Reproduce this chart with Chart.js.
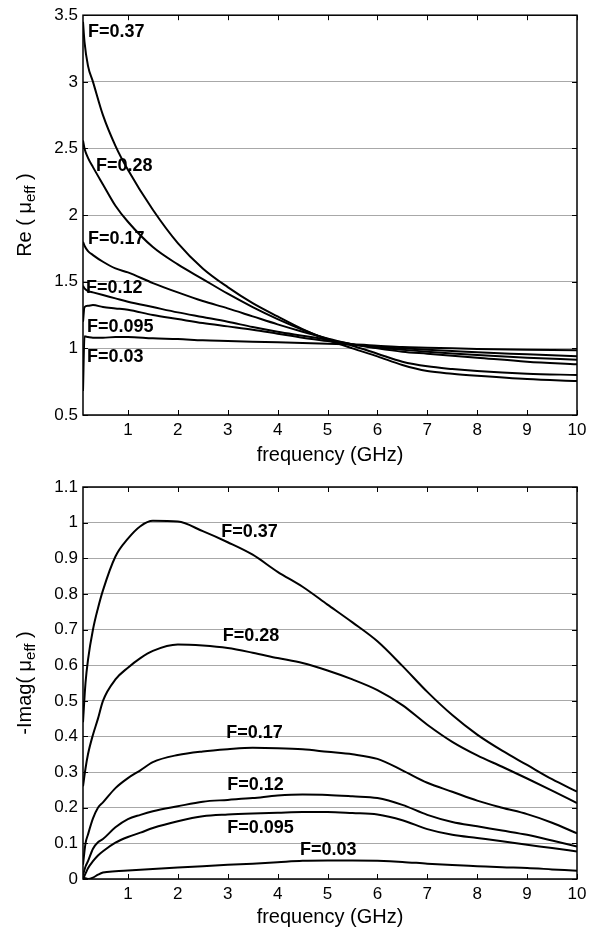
<!DOCTYPE html>
<html>
<head>
<meta charset="utf-8">
<script src="https://cdn.jsdelivr.net/npm/chart.js@4.4.1/dist/chart.umd.min.js"></script>
<style>
  body { margin: 0; background: #fff; }
  .box { position: absolute; left: 0; width: 594px; }
</style>
</head>
<body>
<div class="box" style="top:0;height:470px"><canvas id="reChart"></canvas></div>
<div class="box" style="top:470px;height:461px"><canvas id="imChart"></canvas></div>
<script>
// Re(mu_eff) vs frequency, one curve per filling factor F
const reFreq = [0.1, 0.13, 0.2, 0.3, 0.5, 0.75, 1, 1.5, 2, 2.5, 3, 3.5, 4, 4.5, 5, 5.5, 6, 6.5, 7, 7.5, 8, 9, 10];
const reF037 = [3.45, 3.3, 3.12, 3.0, 2.75, 2.52, 2.34, 2.04, 1.79, 1.60, 1.46, 1.34, 1.24, 1.145, 1.065, 1.0, 0.94, 0.875, 0.83, 0.81, 0.795, 0.77, 0.755];
const reF028 = [2.56, 2.5, 2.43, 2.36, 2.23, 2.07, 1.95, 1.76, 1.63, 1.52, 1.41, 1.31, 1.22, 1.14, 1.07, 1.02, 0.96, 0.9, 0.865, 0.845, 0.83, 0.81, 0.80];
const reF017 = [1.80, 1.77, 1.73, 1.70, 1.65, 1.60, 1.57, 1.49, 1.42, 1.355, 1.30, 1.24, 1.18, 1.125, 1.075, 1.03, 1.0, 0.975, 0.96, 0.945, 0.93, 0.90, 0.88];
const reF012 = [1.47, 1.45, 1.43, 1.42, 1.40, 1.375, 1.35, 1.31, 1.27, 1.235, 1.20, 1.16, 1.125, 1.095, 1.065, 1.03, 1.005, 0.99, 0.975, 0.962, 0.95, 0.93, 0.915];
const reF0095 = [1.2, 1.31, 1.32, 1.325, 1.31, 1.30, 1.29, 1.25, 1.22, 1.19, 1.165, 1.14, 1.11, 1.08, 1.055, 1.03, 1.01, 1.0, 0.99, 0.98, 0.97, 0.955, 0.94];
const reF003 = [0.68, 1.09, 1.085, 1.08, 1.08, 1.085, 1.085, 1.075, 1.07, 1.06, 1.055, 1.05, 1.045, 1.04, 1.035, 1.03, 1.02, 1.01, 1.005, 1.0, 0.995, 0.99, 0.985];

// -Imag(mu_eff) vs frequency
const imFreq = [0.1, 0.15, 0.2, 0.3, 0.4, 0.5, 0.75, 1, 1.25, 1.5, 2, 2.5, 3, 3.5, 4, 4.5, 5, 5.5, 6, 6.5, 7, 7.5, 8, 8.5, 9, 9.5, 10];
const imF037 = [0.44, 0.55, 0.615, 0.70, 0.76, 0.81, 0.905, 0.955, 0.99, 1.005, 1.003, 0.976, 0.945, 0.91, 0.862, 0.82, 0.77, 0.72, 0.667, 0.598, 0.525, 0.46, 0.405, 0.36, 0.32, 0.28, 0.245];
const imF028 = [0.26, 0.31, 0.35, 0.405, 0.45, 0.50, 0.56, 0.593, 0.62, 0.64, 0.658, 0.655, 0.648, 0.635, 0.62, 0.606, 0.585, 0.56, 0.53, 0.488, 0.433, 0.385, 0.347, 0.315, 0.282, 0.248, 0.213];
const imF017 = [0.04, 0.10, 0.125, 0.17, 0.2, 0.215, 0.255, 0.283, 0.305, 0.328, 0.348, 0.358, 0.364, 0.368, 0.367, 0.364, 0.357, 0.35, 0.337, 0.305, 0.27, 0.245, 0.22, 0.2, 0.182, 0.158, 0.128];
const imF012 = [0.01, 0.035, 0.05, 0.085, 0.103, 0.112, 0.145, 0.168, 0.18, 0.19, 0.204, 0.217, 0.222, 0.227, 0.234, 0.237, 0.236, 0.232, 0.227, 0.208, 0.18, 0.16, 0.148, 0.136, 0.124, 0.108, 0.091];
const imF0095 = [0.0, 0.015, 0.03, 0.05, 0.066, 0.078, 0.102, 0.118, 0.13, 0.143, 0.162, 0.176, 0.181, 0.184, 0.186, 0.188, 0.188, 0.185, 0.181, 0.165, 0.14, 0.124, 0.115, 0.106, 0.096, 0.087, 0.077];
const imF003 = [0.005, 0.002, 0.0, 0.004, 0.012, 0.018, 0.022, 0.024, 0.026, 0.028, 0.032, 0.036, 0.04, 0.043, 0.047, 0.051, 0.052, 0.052, 0.051, 0.048, 0.043, 0.039, 0.036, 0.033, 0.031, 0.027, 0.023];

const curveNames = ['F=0.37', 'F=0.28', 'F=0.17', 'F=0.12', 'F=0.095', 'F=0.03'];
const xTicks = [1, 2, 3, 4, 5, 6, 7, 8, 9, 10];

// where the F=... labels sit (data units, left edge of text)
const reLabelX = [0.2, 0.36, 0.2, 0.16, 0.18, 0.18];
const reLabelY = [3.37, 2.37, 1.82, 1.45, 1.16, 0.935];
const imLabelX = [2.87, 2.9, 2.97, 2.99, 2.99, 4.45];
const imLabelY = [0.974, 0.682, 0.41, 0.264, 0.143, 0.081];

const FONT = '"Liberation Sans", Arial, Helvetica, sans-serif';
Chart.defaults.font.family = FONT;
Chart.defaults.color = '#000';

function toPoints(xs, ys) {
  return xs.map((x, i) => ({ x: x, y: ys[i] }));
}

function makeSets(xs, seriesList) {
  return seriesList.map((ys, i) => ({
    label: curveNames[i],
    data: toPoints(xs, ys),
    borderColor: '#000',
    borderWidth: 2,
    pointRadius: 0,
    fill: false,
    cubicInterpolationMode: 'monotone'
  }));
}

// box round the plot with small inward ticks, matlab style
const framePlugin = {
  id: 'frame',
  afterDatasetsDraw(chart) {
    const ctx = chart.ctx, a = chart.chartArea;
    const xs = chart.scales.x, ys = chart.scales.y;
    ctx.save();
    ctx.strokeStyle = '#000';
    ctx.lineWidth = 1;
    ctx.beginPath();
    xs.ticks.forEach(t => {
      const px = Math.round(xs.getPixelForValue(t.value)) + 0.5;
      ctx.moveTo(px, a.bottom); ctx.lineTo(px, a.bottom - 5);
      ctx.moveTo(px, a.top); ctx.lineTo(px, a.top + 5);
    });
    ys.ticks.forEach(t => {
      const py = Math.round(ys.getPixelForValue(t.value)) + 0.5;
      ctx.moveTo(a.left, py); ctx.lineTo(a.left + 5, py);
      ctx.moveTo(a.right, py); ctx.lineTo(a.right - 5, py);
    });
    ctx.stroke();
    ctx.lineWidth = 1.5;
    ctx.strokeRect(a.left, a.top, a.right - a.left, a.bottom - a.top);
    ctx.restore();
  }
};

const labelPlugin = {
  id: 'curveLabels',
  afterDatasetsDraw(chart, args, opts) {
    const ctx = chart.ctx, xs = chart.scales.x, ys = chart.scales.y;
    ctx.save();
    ctx.font = 'bold 18px ' + FONT;
    ctx.fillStyle = '#000';
    ctx.textAlign = 'left';
    ctx.textBaseline = 'middle';
    curveNames.forEach((name, i) => {
      ctx.fillText(name, xs.getPixelForValue(opts.xs[i]), ys.getPixelForValue(opts.ys[i]));
    });
    ctx.restore();
  }
};

// rotated y title with the "eff" subscript
const yTitlePlugin = {
  id: 'yTitle',
  afterDraw(chart, args, opts) {
    const ctx = chart.ctx, a = chart.chartArea;
    const big = '20px ' + FONT, small = '15px ' + FONT;
    const parts = [[opts.pre, big, 0], ['\u03bc', big, 0], ['eff', small, 6], [' )', big, 0]];
    ctx.save();
    let total = 0;
    parts.forEach(p => { ctx.font = p[1]; p.push(ctx.measureText(p[0]).width); total += p[3]; });
    ctx.translate(opts.x, (a.top + a.bottom) / 2);
    ctx.rotate(-Math.PI / 2);
    ctx.fillStyle = '#000';
    ctx.textBaseline = 'middle';
    let pos = -total / 2;
    parts.forEach(p => { ctx.font = p[1]; ctx.fillText(p[0], pos, p[2]); pos += p[3]; });
    ctx.restore();
  }
};

function makeChart(id, xs, seriesList, yMin, yMax, yStep, xAxisH, titlePad, topPad, yPre, lx, ly) {
  return new Chart(document.getElementById(id), {
    type: 'line',
    data: { datasets: makeSets(xs, seriesList) },
    plugins: [framePlugin, labelPlugin, yTitlePlugin],
    options: {
      responsive: true,
      maintainAspectRatio: false,
      animation: false,
      layout: { padding: { top: topPad, right: 17, left: 0, bottom: 0 } },
      scales: {
        x: {
          type: 'linear',
          min: 0.1,
          max: 10,
          afterBuildTicks: s => { s.ticks = xTicks.map(v => ({ value: v })); },
          afterFit: s => { s.height = xAxisH; },
          grid: { display: false, drawTicks: false },
          border: { display: false },
          ticks: { padding: 5, font: { size: 17 }, color: '#000', maxRotation: 0, autoSkip: false },
          title: { display: true, text: 'frequency (GHz)', font: { size: 20 }, color: '#000', padding: { top: 0, bottom: titlePad } }
        },
        y: {
          min: yMin,
          max: yMax,
          afterFit: s => { s.width = 83; },
          ticks: {
            stepSize: yStep, font: { size: 17 }, color: '#000', padding: 5,
            callback: v => String(Number(v.toFixed(2)))
          },
          grid: { color: '#a8a8a8', lineWidth: 1, drawTicks: false },
          border: { display: false }
        }
      },
      plugins: {
        legend: { display: false },
        tooltip: { enabled: false },
        curveLabels: { xs: lx, ys: ly },
        yTitle: { pre: yPre, x: 25 }
      }
    }
  });
}

makeChart('reChart', reFreq, [reF037, reF028, reF017, reF012, reF0095, reF003],
  0.5, 3.5, 0.5, 55, 3, 15, 'Re ( ', reLabelX, reLabelY);
makeChart('imChart', imFreq, [imF037, imF028, imF017, imF012, imF0095, imF003],
  0, 1.1, 0.1, 52, 2, 17, '-Imag( ', imLabelX, imLabelY);
</script>
</body>
</html>
